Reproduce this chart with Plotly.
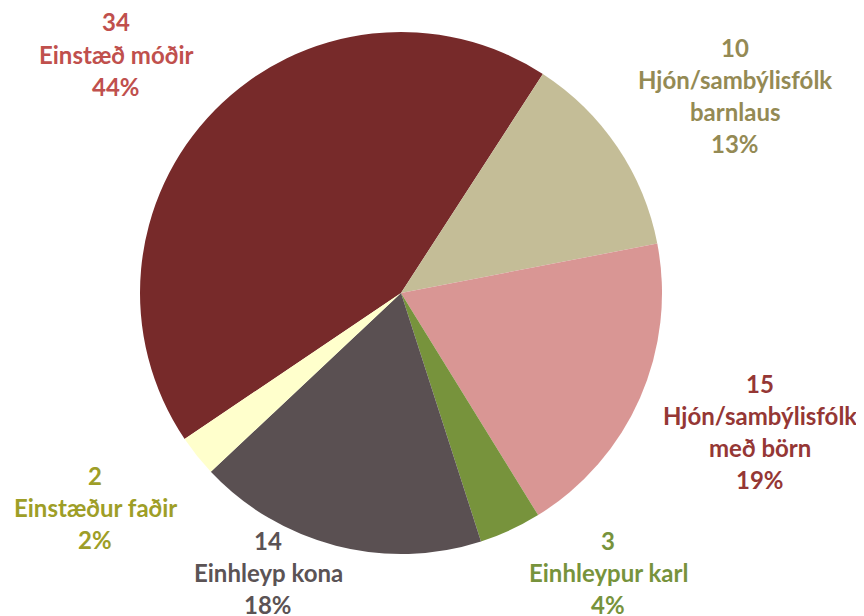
import plotly.graph_objects as go

# Data
labels = ["Einstæð móðir", "Hjón/sambýlisfólk barnlaus", "Hjón/sambýlisfólk með börn",
          "Einhleypur karl", "Einhleyp kona", "Einstæður faðir"]
label_lines = [["Einstæð móðir"], ["Hjón/sambýlisfólk", "barnlaus"], ["Hjón/sambýlisfólk", "með börn"],
               ["Einhleypur karl"], ["Einhleyp kona"], ["Einstæður faðir"]]
values = [34, 10, 15, 3, 14, 2]
percents = ["44%", "13%", "19%", "4%", "18%", "2%"]

# Styles
slice_colors = ["#772A2A", "#C4BD97", "#D99694", "#77933C", "#5A5052", "#FFFFCC"]
text_colors = ["#C0504D", "#948A54", "#953735", "#77933C", "#5B5355", "#9E9E27"]
OFF = 8  # page body margin
# label anchor: (center x px, first line y px) in screen pixels
anchors = [(116, 22), (735, 47), (760, 383), (608, 540), (268, 540), (95, 475)]
line_gap = 32.3

W, H = 864, 616

fig = go.Figure(go.Pie(
    labels=labels, values=values, sort=False, direction="clockwise", rotation=236,
    marker=dict(colors=slice_colors, line=dict(width=0)),
    textinfo="none", hoverinfo="label+value+percent", showlegend=False,
    domain=dict(x=[(140 - OFF) / W, (662 - OFF) / W], y=[1 - (554 - OFF) / H, 1 - (32 - OFF) / H]),
))

annotations = []
for i in range(len(values)):
    lines = [str(values[i])] + label_lines[i] + [percents[i]]
    cx, y0 = anchors[i]
    for j, t in enumerate(lines):
        annotations.append(dict(
            x=(cx - OFF) / W, y=1 - (y0 - OFF + j * line_gap) / H, xref="paper", yref="paper",
            text=t, showarrow=False, xanchor="center", yanchor="middle",
            font=dict(family="Lato", size=24, color=text_colors[i], weight="bold"),
        ))

fig.update_layout(
    width=W, height=H, margin=dict(l=0, r=0, t=0, b=0),
    paper_bgcolor="white", plot_bgcolor="white",
    annotations=annotations,
)

fig.write_html("out.html")
